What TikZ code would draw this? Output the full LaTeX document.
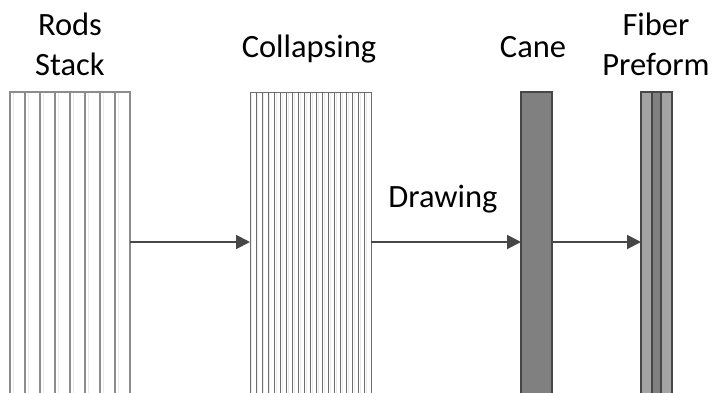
\documentclass[tikz,border=0pt]{standalone}
\usepackage{fontspec}
\setmainfont{Carlito}
\usetikzlibrary{arrows.meta}
\definecolor{rodgray}{HTML}{8C8C8C}
\definecolor{thingray}{HTML}{6E6E6E}
\definecolor{glintgray}{HTML}{EBEBEB}
\definecolor{coregray}{HTML}{808080}
\definecolor{cladgray}{HTML}{A4A4A4}
\definecolor{edgegray}{HTML}{474747}
\tikzset{
  frame/.style={inner sep=0pt, outer sep=0pt, minimum height=300pt},
  rod/.style={draw=rodgray, line width=1.4pt},
  thinrod/.style={draw=thingray, line width=1pt},
  glint/.style={draw=glintgray, line width=1pt},
  core/.style={draw=edgegray, fill=coregray, line width=1.4pt},
  clad/.style={draw=edgegray, fill=cladgray, line width=1.4pt},
  flow/.style={draw=edgegray, line width=2pt, -{Triangle[length=14pt,width=14pt]}},
  stagetext/.style={align=center, font=\fontsize{32.5}{40}\selectfont, inner sep=0pt}
}
\begin{document}
\begin{tikzpicture}[x=1pt,y=-1pt]
  \useasboundingbox (0,0) rectangle (716,392);
  % frames of the four stages
  \node[frame, minimum width=120pt] (stack) at (70,242) {};
  \node[frame, minimum width=121pt] (collapse) at (310.5,242) {};
  \node[frame, minimum width=31pt] (cane) at (536.5,242) {};
  \node[frame, minimum width=31pt] (preform) at (656.5,242) {};
  % rods stack
  \foreach \i in {0,...,7} {
    \draw[glint] ({13+15*\i},93) -- ++(0,310);
    \draw[rod] ({10+15*\i},92) rectangle ++(15,310);
  }
  % collapsed rods
  \foreach \i in {0,...,19} {
    \draw[glint] ({251.8+6.05*\i},93) -- ++(0,310);
    \draw[thinrod] ({250+6.05*\i},92) rectangle ++(6.05,310);
  }
  % cane and preform
  \draw[core] (521,92) rectangle (552,402);
  \draw[clad] (641,92) rectangle (672,402);
  \draw[core] (652,92) rectangle (661,402);
  % labels
  \node[stagetext, anchor=base] (stacklbl) at (70,75) {Rods\\Stack};
  \node[stagetext, anchor=base] (collapselbl) at (309,57) {Collapsing};
  \node[stagetext, anchor=base] (canelbl) at (533,57) {Cane};
  \node[stagetext, anchor=base] (preformlbl) at (656,75) {Fiber\\Preform};
  \node[stagetext, anchor=base] (drawlbl) at (443,207) {Drawing};
  % arrows
  \draw[flow] (stack.east) -- (collapse.west);
  \draw[flow] (collapse.east) -- (cane.west);
  \draw[flow] (cane.east) -- (preform.west);
\end{tikzpicture}
\end{document}
